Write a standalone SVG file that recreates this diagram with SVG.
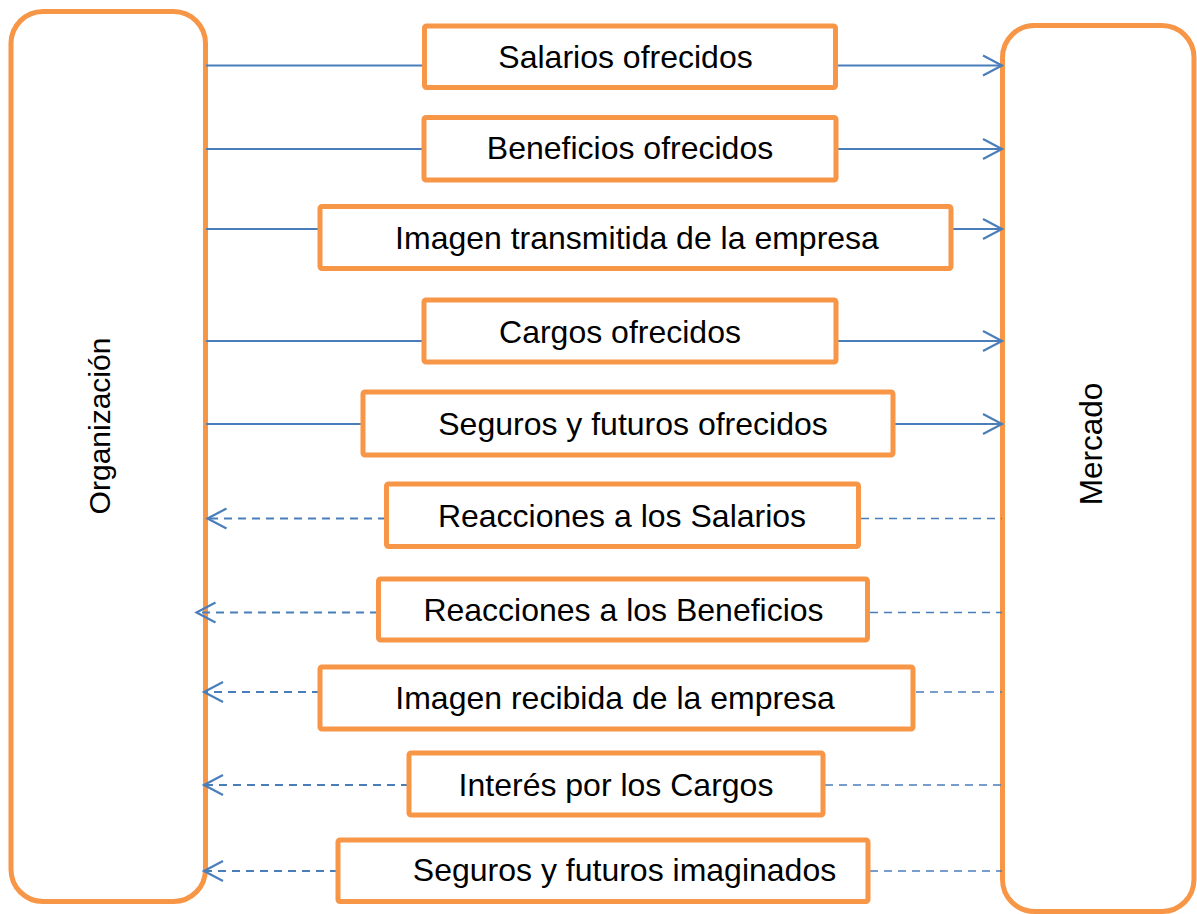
<svg xmlns="http://www.w3.org/2000/svg" width="1197" height="914" viewBox="0 0 1197 914">
<style>
.big{fill:#fff;stroke:#F79646;stroke-width:5}
.box{fill:#fff;stroke:#F79646;stroke-width:5}
.t{font-family:"Liberation Sans",Arial,sans-serif;font-size:32px;fill:#000;text-anchor:middle}
.side{font-family:"Liberation Sans",Arial,sans-serif;fill:#000;text-anchor:middle}
.s{stroke:#4A7EBB;stroke-width:2;fill:none}
.d{stroke:#4A7EBB;stroke-width:2;fill:none;stroke-dasharray:8 6}
.dr{stroke:#4A7EBB;stroke-width:1.6;fill:none;stroke-dasharray:8 6}
</style>
<defs>
<marker id="ah" markerUnits="userSpaceOnUse" markerWidth="24" markerHeight="24" viewBox="-21 -12 24 24" refX="0" refY="0" orient="auto" overflow="visible">
<path d="M-19,-10 L0,0 L-19,10" fill="none" stroke="#4A7EBB" stroke-width="2.2" stroke-dasharray="none"/>
</marker>
</defs>
<rect width="1197" height="914" fill="#fff"/>
<g id="organizacion">
<rect class="big" x="11" y="11.5" width="194.5" height="890" rx="32"/>
<text class="side" font-size="30" transform="translate(110,426) rotate(-90)">Organización</text>
</g>
<g id="mercado">
<rect class="big" x="1002.5" y="25.5" width="191.5" height="886" rx="32"/>
<text class="side" font-size="31.5" transform="translate(1102,444) rotate(-90)">Mercado</text>
</g>
<g id="connectors">
<line class="s" x1="206" y1="65.5" x2="424" y2="65.5"/>
<line class="s" x1="838" y1="65.5" x2="1002" y2="65.5" marker-end="url(#ah)"/>
<line class="s" x1="206" y1="149" x2="424" y2="149"/>
<line class="s" x1="838" y1="149" x2="1002" y2="149" marker-end="url(#ah)"/>
<line class="s" x1="206" y1="229" x2="320" y2="229"/>
<line class="s" x1="953" y1="229" x2="1002" y2="229" marker-end="url(#ah)"/>
<line class="s" x1="206" y1="341" x2="424" y2="341"/>
<line class="s" x1="838" y1="341" x2="1002" y2="341" marker-end="url(#ah)"/>
<line class="s" x1="206" y1="424" x2="363" y2="424"/>
<line class="s" x1="895" y1="424" x2="1002" y2="424" marker-end="url(#ah)"/>
<line class="d" x1="386" y1="518.5" x2="207.5" y2="518.5" marker-end="url(#ah)"/>
<line class="dr" x1="861" y1="518.5" x2="1002" y2="518.5"/>
<line class="d" x1="378" y1="612.5" x2="196.5" y2="612.5" marker-end="url(#ah)"/>
<line class="dr" x1="870" y1="612.5" x2="1002" y2="612.5"/>
<line class="d" x1="320" y1="692" x2="204" y2="692" marker-end="url(#ah)"/>
<line class="dr" x1="916" y1="692" x2="1002" y2="692"/>
<line class="d" x1="409" y1="785" x2="204" y2="785" marker-end="url(#ah)"/>
<line class="dr" x1="825" y1="785" x2="1002" y2="785"/>
<line class="d" x1="338" y1="871" x2="204" y2="871" marker-end="url(#ah)"/>
<line class="dr" x1="870" y1="871" x2="1002" y2="871"/>
</g>
<g id="n1"><rect class="box" x="424.5" y="26" width="411" height="61.5" rx="2"/><text class="t" x="625.5" y="68">Salarios ofrecidos</text></g>
<g id="n2"><rect class="box" x="424" y="117.5" width="412" height="62.5" rx="2"/><text class="t" x="630" y="159">Beneficios ofrecidos</text></g>
<g id="n3"><rect class="box" x="320" y="206.5" width="631" height="62" rx="2"/><text class="t" x="637" y="249">Imagen transmitida de la empresa</text></g>
<g id="n4"><rect class="box" x="424" y="300" width="412" height="62" rx="2"/><text class="t" x="620" y="343">Cargos ofrecidos</text></g>
<g id="n5"><rect class="box" x="363" y="392" width="530" height="63" rx="2"/><text class="t" x="633" y="435">Seguros y futuros ofrecidos</text></g>
<g id="n6"><rect class="box" x="386.5" y="484" width="472" height="62.5" rx="2"/><text class="t" x="622" y="527">Reacciones a los Salarios</text></g>
<g id="n7"><rect class="box" x="378.5" y="579" width="489" height="61" rx="2"/><text class="t" x="623.5" y="621">Reacciones a los Beneficios</text></g>
<g id="n8"><rect class="box" x="320" y="667" width="593" height="62" rx="2"/><text class="t" x="615" y="709">Imagen recibida de la empresa</text></g>
<g id="n9"><rect class="box" x="409" y="753" width="414" height="62" rx="2"/><text class="t" x="616" y="796">Interés por los Cargos</text></g>
<g id="n10"><rect class="box" x="338" y="840" width="530" height="61.5" rx="2"/><text class="t" x="624.5" y="881">Seguros y futuros imaginados</text></g>
</svg>
